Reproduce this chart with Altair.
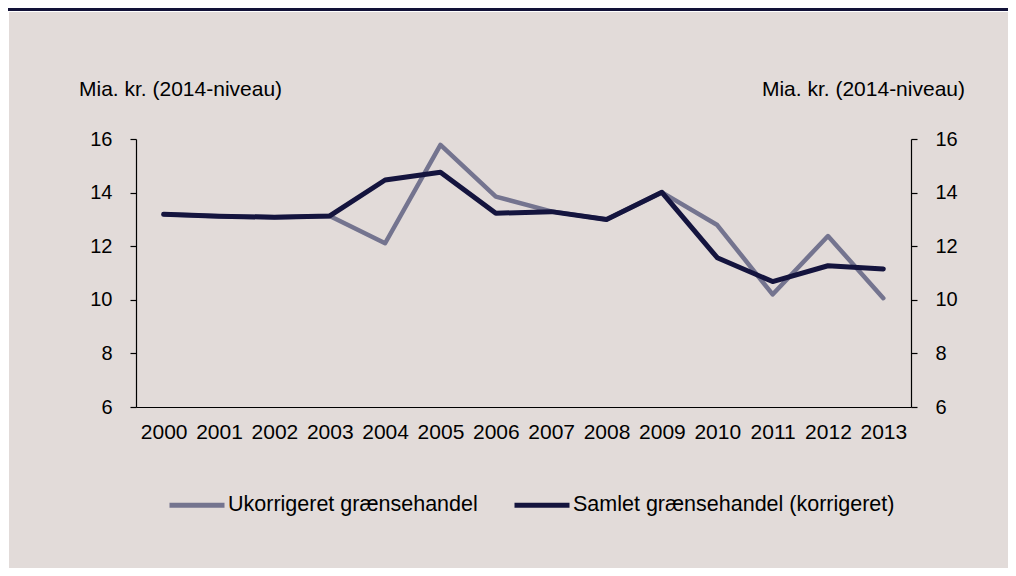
import altair as alt
import pandas as pd

years = [str(y) for y in range(2000, 2014)]
ukorrigeret = [13.19, 13.12, 13.08, 13.13, 12.11, 15.78, 13.85, 13.30, 13.00, 14.01, 12.79, 10.20, 12.38, 10.06]
samlet = [13.19, 13.12, 13.08, 13.13, 14.47, 14.76, 13.23, 13.29, 13.00, 14.01, 11.57, 10.68, 11.27, 11.15]
series_names = ["Ukorrigeret grænsehandel", "Samlet grænsehandel (korrigeret)"]
series_colors = ["#74748f", "#14143e"]
y_ticks = [6, 8, 10, 12, 14, 16]
unit_label = "Mia. kr. (2014-niveau)"

FONT = "Liberation Sans, Arial, sans-serif"

df = pd.DataFrame({
    "year": years * 2,
    "value": ukorrigeret + samlet,
    "series": [series_names[0]] * len(years) + [series_names[1]] * len(years),
})

W, H = 775, 268

x_enc = alt.X("year:O", scale=alt.Scale(type="point", padding=0.5),
              axis=alt.Axis(title=None, labelAngle=0, ticks=False, tickSize=0,
                            labelPadding=14.5, labelFontSize=21, labelFont=FONT,
                            labelColor="black", domainColor="black", domainWidth=1.2,
                            grid=False, zindex=1))
y_scale = alt.Scale(domain=[6, 16], nice=False, zero=False)
color_enc = alt.Color("series:N",
                      scale=alt.Scale(domain=series_names, range=series_colors),
                      legend=alt.Legend(orient="none", legendX=31, legendY=336,
                                        direction="horizontal", title=None,
                                        symbolType="stroke", symbolSize=3025,
                                        symbolStrokeWidth=5, labelFontSize=21.5,
                                        labelFont=FONT, labelColor="black",
                                        labelOffset=1, columnPadding=26, padding=0,
                                        labelLimit=0))

def yaxis(orient):
    return alt.Axis(title=None, orient=orient, values=y_ticks, tickSize=6,
                    labelPadding=18, labelFontSize=20, labelFont=FONT,
                    labelColor="black", domainColor="black", tickColor="black",
                    domainWidth=1.2, tickWidth=1.2, grid=False, zindex=1)

base = alt.Chart(df)

grey = base.transform_filter(alt.datum.series == series_names[0]).mark_line(
    strokeWidth=4.5, strokeCap="round", strokeJoin="round").encode(
    x=x_enc,
    y=alt.Y("value:Q", scale=y_scale, axis=yaxis("left")),
    color=color_enc,
)
dark = base.transform_filter(alt.datum.series == series_names[1]).mark_line(
    strokeWidth=5, strokeCap="round", strokeJoin="round").encode(
    x=x_enc,
    y=alt.Y("value:Q", scale=y_scale, axis=yaxis("right")),
    color=color_enc,
)

one = alt.Data(values=[{"a": 1}])
panel = alt.Chart(one).mark_rect(color="#e2dbd9").encode(
    x=alt.value(-127), x2=alt.value(872), y=alt.value(-127), y2=alt.value(429))
band = alt.Chart(one).mark_rect(color="#121238").encode(
    x=alt.value(-128), x2=alt.value(872), y=alt.value(-131), y2=alt.value(-128))
title_left = alt.Chart(one).mark_text(text=unit_label, align="left", baseline="alphabetic",
                                      fontSize=21, font=FONT, color="black").encode(
    x=alt.value(-57), y=alt.value(-43.5))
title_right = alt.Chart(one).mark_text(text=unit_label, align="right", baseline="alphabetic",
                                       fontSize=21, font=FONT, color="black").encode(
    x=alt.value(829), y=alt.value(-43.5))

chart = alt.layer(band, panel, grey, dark, title_left, title_right).resolve_axis(
    y="independent"
).properties(
    width=W, height=H,
    autosize=alt.AutoSizeParams(type="none"),
    padding={"left": 128, "top": 131, "right": 97, "bottom": 161},
    background="white",
).configure_view(stroke=None)

chart.save("out.html", embed_options={"renderer": "svg", "actions": False})
